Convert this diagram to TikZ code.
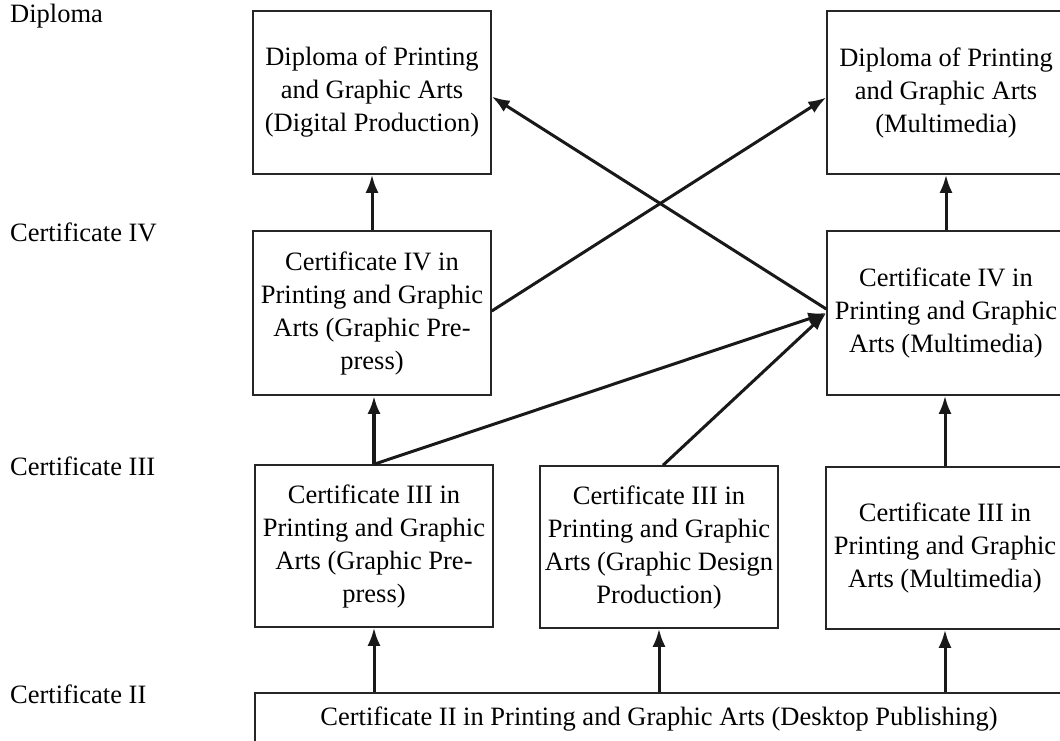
\documentclass[tikz,border=0pt]{standalone}
\usepackage{fontspec}
\setmainfont{Liberation Serif}
\usetikzlibrary{arrows.meta}
\tikzset{
  box/.style={draw=black!85, line width=1.5pt, align=center, inner sep=0pt,
              minimum width=238pt, minimum height=163pt,
              font=\fontsize{26.5}{33}\selectfont},
  lvl/.style={anchor=west, inner sep=0pt, font=\fontsize{26.5}{33}\selectfont},
  arr/.style={draw=black!90, line width=3pt, -{Latex[length=18pt,width=13pt]}},
  thickarr/.style={arr, line width=4.5pt}
}
\begin{document}
\begin{tikzpicture}[x=1pt,y=-1pt]
\clip (0,0) rectangle (1060,740);
\fill[white] (0,0) rectangle (1060,740);
% level labels
\node[lvl] (ldip) at (10,16) {Diploma};
\node[lvl] (lc4) at (10,232) {Certificate IV};
\node[lvl] (lc3) at (10,466) {Certificate III};
\node[lvl] (lc2) at (10,694) {Certificate II};
% boxes
\node[box] (dpd) at (372,92.5) {Diploma of Printing\\and Graphic Arts\\(Digital Production)};
\node[box] (dmm) at (946,92.5) {Diploma of Printing\\and Graphic Arts\\(Multimedia)};
\node[box, minimum height=164pt] (c4gp) at (372,313) {Certificate IV in\\Printing and Graphic\\Arts (Graphic Pre-\\press)};
\node[box, minimum height=164pt] (c4mm) at (946,313) {Certificate IV in\\Printing and Graphic\\Arts (Multimedia)};
\node[box, minimum height=162pt] (c3gp) at (374,546) {Certificate III in\\Printing and Graphic\\Arts (Graphic Pre-\\press)};
\node[box, minimum height=162pt] (c3gdp) at (659,547) {Certificate III in\\Printing and Graphic\\Arts (Graphic Design\\Production)};
\node[box, minimum height=162pt] (c3mm) at (945,548) {Certificate III in\\Printing and Graphic\\Arts (Multimedia)};
\node[box, minimum width=808pt, minimum height=52pt] (c2) at (659,719) {Certificate II in Printing and Graphic Arts (Desktop Publishing)};
% vertical arrows
\draw[arr] (c2.north -| c3gp) -- (c3gp.south);
\draw[arr] (c2.north -| c3gdp) -- (c3gdp.south);
\draw[arr] (c2.north -| c3mm) -- (c3mm.south);
\draw[thickarr] (c3gp.north) -- (c4gp.south -| c3gp.north);
\draw[arr] (c3mm.north) -- (c4mm.south -| c3mm.north);
\draw[arr] (c4gp.north) -- (dpd.south);
\draw[arr] (c4mm.north) -- (dmm.south);
% diagonal arrows
\draw[arr] ([yshift=2pt]c4gp.east) -- ([yshift=-5pt]dmm.west);
\draw[arr] ([yshift=4pt]c4mm.west) -- ([yshift=-4pt]dpd.east);
\draw[arr] (c3gp.north) -- (c4mm.west);
\draw[arr] ([xshift=4pt]c3gdp.north) -- (c4mm.west);
\end{tikzpicture}
\end{document}
